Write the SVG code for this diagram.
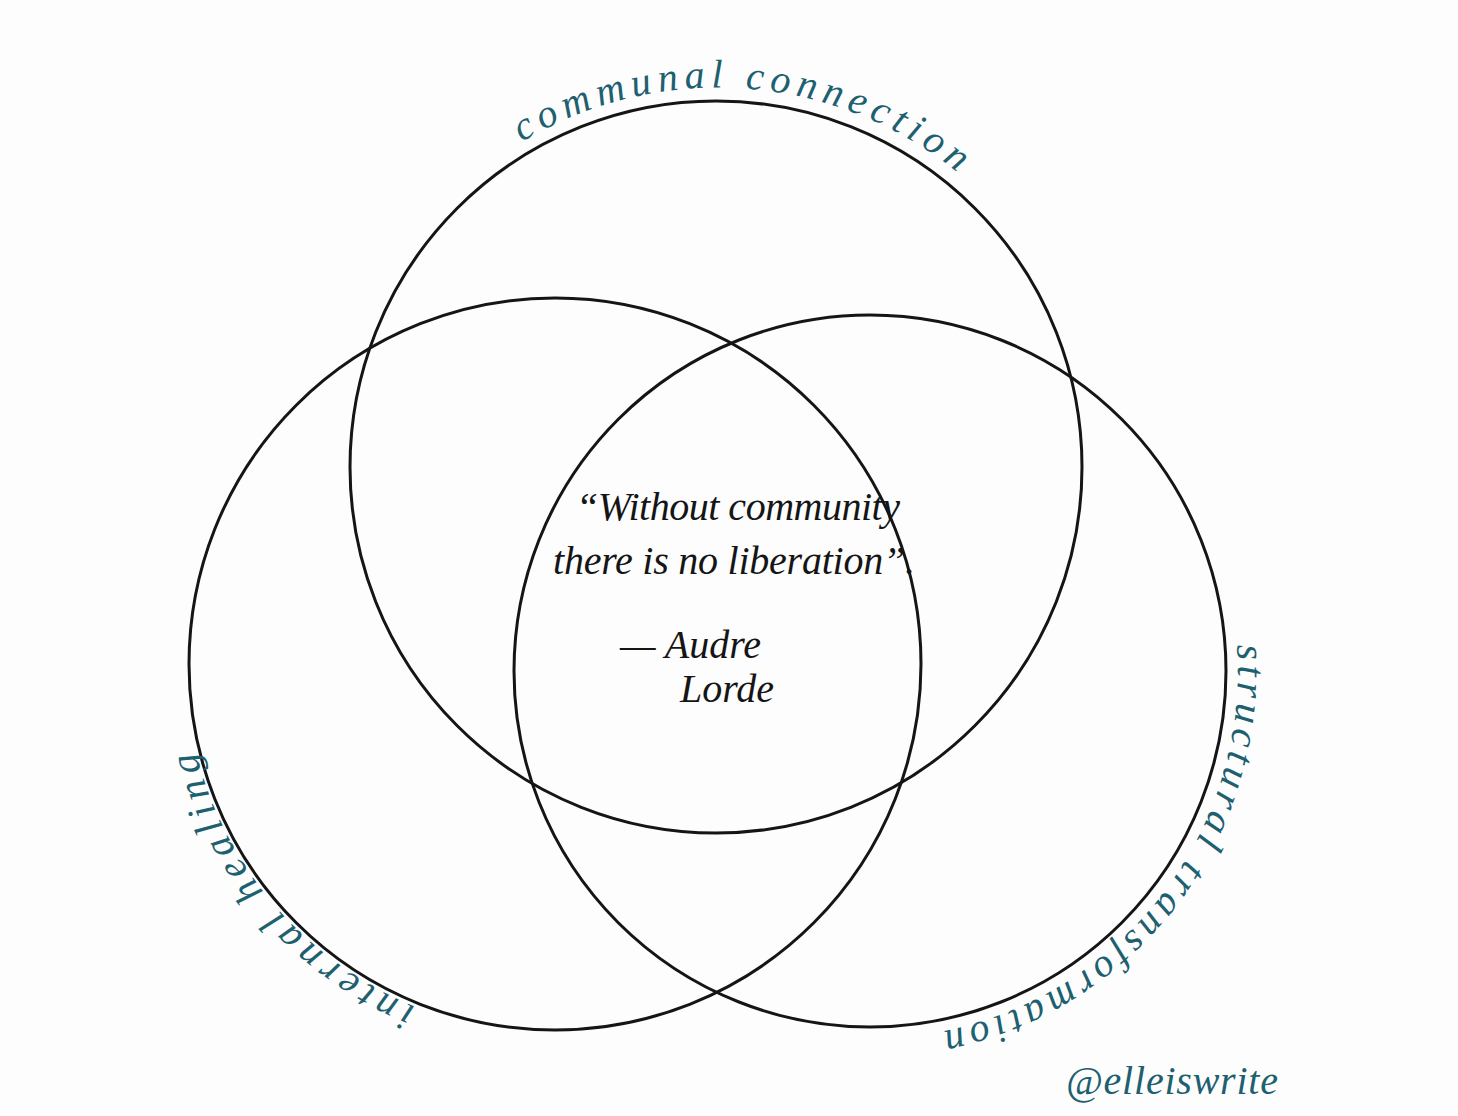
<svg xmlns="http://www.w3.org/2000/svg" width="1458" height="1116" viewBox="0 0 1458 1116">
<style>
.ring{fill:none;stroke:#151515;stroke-width:3}
.lab{font-family:"Liberation Serif","DejaVu Serif",serif;font-style:italic;fill:#1d6070;font-size:40px}
.quote{font-family:"Liberation Serif","DejaVu Serif",serif;font-style:italic;fill:#151515;font-size:40px}
</style>
<defs>
<path id="pTop" d="M 522 142 A 380 380 0 0 1 972 185"/>
<path id="pRight" d="M 1237 645 A 368 368 0 0 1 934 1033"/>
<path id="pLeft" d="M 416 1007 A 370 370 0 0 1 191 728"/>
</defs>
<rect width="1458" height="1116" fill="#fdfdfd"/>
<g id="connectors"/>
<g id="node-communal">
<circle class="ring" cx="716" cy="467" r="366"/>
<text class="lab"><textPath href="#pTop" textLength="465" lengthAdjust="spacing">communal connection</textPath></text>
</g>
<g id="node-internal">
<circle class="ring" cx="555" cy="664" r="366"/>
<text class="lab"><textPath href="#pLeft" textLength="350" lengthAdjust="spacing">internal healing</textPath></text>
</g>
<g id="node-structural">
<circle class="ring" cx="870" cy="671" r="356"/>
<text class="lab"><textPath href="#pRight" textLength="530" lengthAdjust="spacing">structural transformation</textPath></text>
</g>
<g id="quote">
<text class="quote" x="576" y="520" textLength="324" lengthAdjust="spacing">“Without community</text>
<text class="quote" x="553" y="574" textLength="362" lengthAdjust="spacing">there is no liberation”.</text>
<text class="quote" x="620" y="658">— Audre</text>
<text class="quote" x="680" y="702">Lorde</text>
</g>
<g id="credit">
<text class="lab" x="1066" y="1094" font-size="36" textLength="212" lengthAdjust="spacing">@elleiswrite</text>
</g>
</svg>
